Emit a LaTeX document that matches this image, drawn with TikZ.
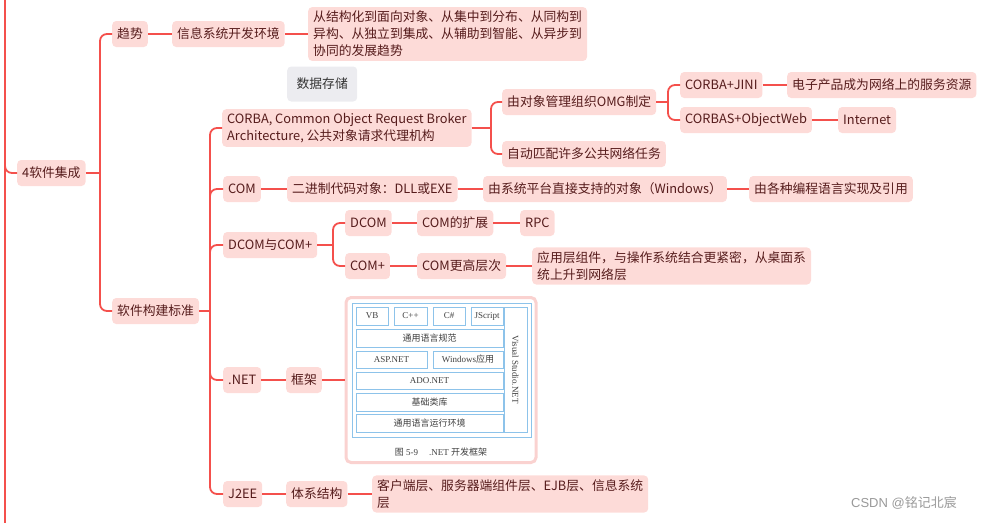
\documentclass[tikz,border=0pt]{standalone}
\usepackage{fontspec}
\usepackage{xcolor}
\usepackage{tikz}
\setmainfont{Noto Sans CJK SC}
\newfontfamily\figserif{Liberation Serif}
\newfontfamily\markfont{Liberation Sans}
\usetikzlibrary{positioning}
\definecolor{wire}{HTML}{F4504C}
\definecolor{blush}{HTML}{FDDBD8}
\definecolor{maroon}{HTML}{561C1C}
\definecolor{mist}{HTML}{ECECF0}
\definecolor{sky}{HTML}{8DC3EA}
\definecolor{frame}{HTML}{FAD2D0}

\begin{document}
\begin{tikzpicture}[
  x=1pt,
  y=-1pt,
  topic/.style={fill=blush, rounded corners=4pt, minimum height=26pt, inner xsep=5pt, inner ysep=4pt, align=left, anchor=west, text=maroon, font=\fontsize{12.8}{17}\selectfont},
  note/.style={fill=mist, rounded corners=4pt, minimum height=35pt, minimum width=70pt, anchor=west, text=black!80, font=\fontsize{12.8}{17}\selectfont},
  link/.style={draw=wire, line width=1.8pt, rounded corners=7pt},
  cell/.style={draw=sky, line width=0.8pt, fill=white, inner sep=0pt, text=black!75, font=\fontsize{9}{10}\selectfont}
]
  \useasboundingbox (0,0) rectangle (985,522);

  % left spine of the bigger map
  \coordinate (spinetop) at (5,-3);
  \coordinate (spinebot) at (5,525);
  \draw[link] (spinetop) -- (spinebot);

  \node[topic] (root) at (17,173) {4软件集成};
  \draw[link] (spinetop) |- (root.west);

  \node[topic] (trend) at (112,34) {趋势};
  \node[topic] (devenv) at (172,34) {信息系统开发环境};
  \node[topic] (trendtext) at (308,34) {从结构化到面向对象、从集中到分布、从同构到\\异构、从独立到集成、从辅助到智能、从异步到\\协同的发展趋势};
  \node[note] (storage) at (287,84) {数据存储};

  \node[topic] (std) at (112,311) {软件构建标准};

  \node[topic] (corba) at (222,128) {CORBA, Common Object Request Broker\\Architecture, 公共对象请求代理机构};
  \node[topic] (omg) at (502,102) {由对象管理组织OMG制定};
  \node[topic] (auto) at (502,154) {自动匹配许多公共网络任务};
  \node[topic] (jini) at (680,85) {CORBA+JINI};
  \node[topic] (service) at (787,85) {电子产品成为网络上的服务资源};
  \node[topic] (objweb) at (680,120) {CORBAS+ObjectWeb};
  \node[topic] (internet) at (838,120) {Internet};

  \node[topic] (com) at (223,189) {COM};
  \node[topic] (binary) at (287,189) {二进制代码对象：DLL或EXE};
  \node[topic] (winobj) at (483,189) {由系统平台直接支持的对象（Windows）};
  \node[topic] (langs) at (749,189) {由各种编程语言实现及引用};

  \node[topic] (dcomplus) at (223,245) {DCOM与COM+};
  \node[topic] (dcom) at (345,223) {DCOM};
  \node[topic] (comext) at (417,223) {COM的扩展};
  \node[topic] (rpc) at (520,223) {RPC};
  \node[topic] (complus) at (345,266) {COM+};
  \node[topic] (comhigh) at (417,266) {COM更高层次};
  \node[topic] (applayer) at (532,266) {应用层组件，与操作系统结合更紧密，从桌面系\\统上升到网络层};

  \node[topic] (dotnet) at (223,380) {.NET};
  \node[topic] (fw) at (286,380) {框架};

  \node[topic] (j2ee) at (223,494) {J2EE};
  \node[topic] (arch) at (286,494) {体系结构};
  \node[topic] (tiers) at (372,494) {客户端层、服务器端组件层、EJB层、信息系统\\层};

  % .NET framework figure
  \node[draw=frame, line width=3pt, fill=white, rounded corners=5pt, minimum width=190pt, minimum height=165pt] (figbox) at (441,380) {};
  \node[draw=sky, line width=0.8pt, minimum width=179pt, minimum height=134pt] (figblue) at (441.5,370) {};
  \node[cell, minimum width=32pt, minimum height=18pt] (vb) at (372,316) {\figserif VB};
  \node[cell, minimum width=33pt, minimum height=18pt] (cpp) at (410.5,316) {\figserif C++};
  \node[cell, minimum width=32pt, minimum height=18pt] (cs) at (449,316) {\figserif C\#};
  \node[cell, minimum width=32pt, minimum height=18pt] (js) at (487,316) {\figserif JScript};
  \node[cell, minimum width=23pt, minimum height=125pt] (vs) at (515.5,369.5) {};
  \node[rotate=-90, text=black!75, font=\fontsize{9}{10}\selectfont\figserif] (vslabel) at (vs.center) {Visual Studio.NET};
  \node[cell, minimum width=147pt, minimum height=18pt] (cls) at (429.5,338) {通用语言规范};
  \node[cell, minimum width=71pt, minimum height=17pt] (asp) at (391.5,359.5) {\figserif ASP.NET};
  \node[cell, minimum width=70pt, minimum height=17pt] (winapp) at (468,359.5) {{\figserif Windows}应用};
  \node[cell, minimum width=147pt, minimum height=17pt] (ado) at (429.5,380.5) {\figserif ADO.NET};
  \node[cell, minimum width=147pt, minimum height=18pt] (fcl) at (429.5,402) {基础类库};
  \node[cell, minimum width=147pt, minimum height=18pt] (clr) at (429.5,423) {通用语言运行环境};
  \node[text=black!75, font=\fontsize{9}{10}\selectfont] (figcap) at (441,452) {图 {\figserif 5-9\quad\ .NET} 开发框架};

  \node[text=black!40, font=\fontsize{13}{15}\selectfont] (mark) at (904,503) {{\markfont CSDN @}铭记北宸};

  % connectors
  \coordinate (j1) at (100,173);
  \draw[link] (root.east) -- (j1);
  \draw[link] (j1) |- (trend.west);
  \draw[link] (j1) |- (std.west);
  \draw[link] (trend) -- (devenv);
  \draw[link] (devenv) -- (trendtext);

  \coordinate (j2) at (210,311);
  \draw[link] (std.east) -- (j2);
  \draw[link] (j2) |- (corba.west);
  \draw[link] (j2) |- (com.west);
  \draw[link] (j2) |- (dcomplus.west);
  \draw[link] (j2) |- (dotnet.west);
  \draw[link] (j2) |- (j2ee.west);

  \coordinate (j3) at (491,128);
  \draw[link] (corba.east) -- (j3);
  \draw[link] (j3) |- (omg.west);
  \draw[link] (j3) |- (auto.west);

  \coordinate (j4) at (668,102);
  \draw[link] (omg.east) -- (j4);
  \draw[link] (j4) |- (jini.west);
  \draw[link] (j4) |- (objweb.west);
  \draw[link] (jini) -- (service);
  \draw[link] (objweb) -- (internet);

  \draw[link] (com) -- (binary);
  \draw[link] (binary) -- (winobj);
  \draw[link] (winobj) -- (langs);

  \coordinate (j5) at (333,245);
  \draw[link] (dcomplus.east) -- (j5);
  \draw[link] (j5) |- (dcom.west);
  \draw[link] (j5) |- (complus.west);
  \draw[link] (dcom) -- (comext);
  \draw[link] (comext) -- (rpc);
  \draw[link] (complus) -- (comhigh);
  \draw[link] (comhigh) -- (applayer);

  \draw[link] (dotnet) -- (fw);
  \draw[link] (fw) -- (figbox);

  \draw[link] (j2ee) -- (arch);
  \draw[link] (arch) -- (tiers);
\end{tikzpicture}
\end{document}
